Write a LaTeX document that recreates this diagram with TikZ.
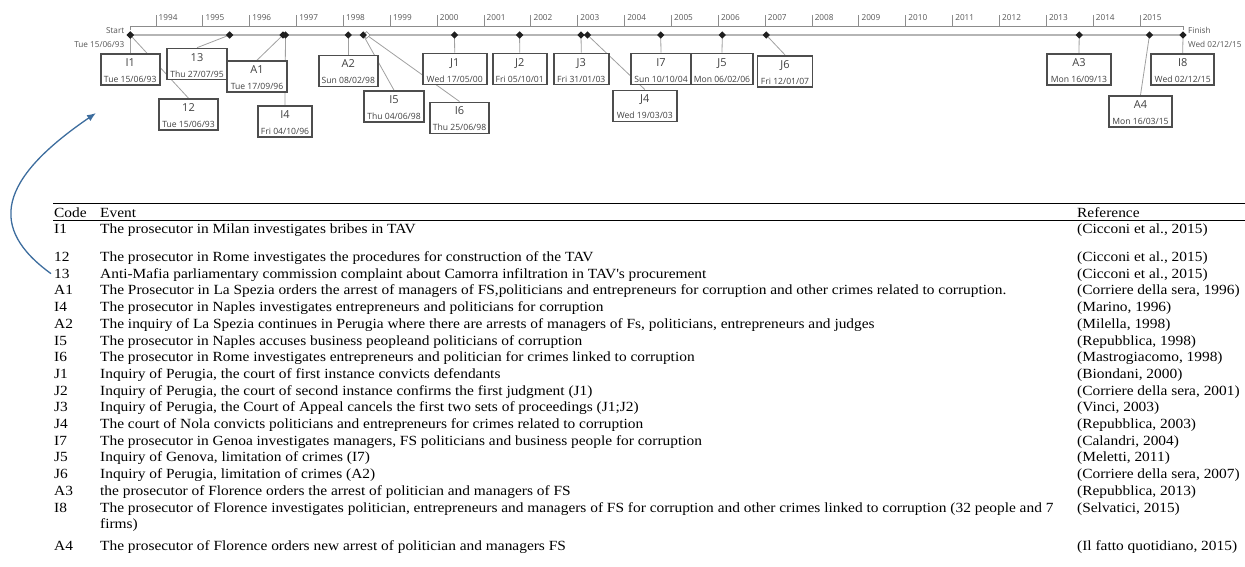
\documentclass[tikz,border=0pt]{standalone}
\usepackage{fontspec}
\setmainfont{Liberation Serif}
\newfontfamily\tabfont{Liberation Serif}[FakeStretch=1.1]
\newfontfamily\tlfont{Open Sans}
\usetikzlibrary{shapes.geometric,arrows.meta}
\pgfdeclarelayer{bg}
\pgfsetlayers{bg,main}
\definecolor{boxline}{HTML}{4D4D4D}
\definecolor{tltext}{HTML}{404040}
\definecolor{mainline}{HTML}{B5B5B5}
\definecolor{connline}{HTML}{A0A0A0}
\definecolor{axisgray}{HTML}{8C8C8C}
\definecolor{lbltext}{HTML}{555555}
\definecolor{arrowblue}{HTML}{3D6D9E}
\newcommand\tlev[6]{%
  \node[evbox, minimum width=#4pt] (#1) at (#2,#3) {};
  \node[evtitle] (#1-t) at ([yshift=3pt]#1.center) {#5};
  \node[evdate] (#1-d) at ([yshift=-13pt]#1.center) {#6};}
\newcommand\tabrow[5]{%
  \node[cell] (c#1) at (54,#2) {#3};
  \node[cell] (e#1) at (100,#2) {#4};
  \node[cell] (r#1) at (1077,#2) {#5};}
\begin{document}
\begin{tikzpicture}[x=1pt,y=-1pt,
  evbox/.style={draw=boxline, line width=1.6pt, fill=white, minimum height=31pt, inner sep=0pt},
  evtitle/.style={font=\tlfont\fontsize{11}{12}\selectfont, text=tltext, inner sep=0pt, anchor=base},
  evdate/.style={font=\tlfont\fontsize{8.6}{10}\selectfont, text=tltext, inner sep=0pt, anchor=base},
  dia/.style={diamond, fill=black!88, inner sep=0pt, minimum size=7.5pt},
  diahollow/.style={diamond, fill=white, draw=black!45, line width=0.6pt, inner sep=0pt, minimum size=7pt},
  conn/.style={draw=connline, line width=0.8pt},
  axisln/.style={draw=axisgray, line width=1pt},
  mainln/.style={draw=mainline, line width=1.8pt},
  tllbl/.style={font=\tlfont\fontsize{8.2}{9}\selectfont, text=lbltext, inner sep=0pt},
  cell/.style={font=\tabfont\fontsize{14}{16}\selectfont, anchor=base west, inner sep=0pt},
  rulel/.style={draw=black, line width=1pt},
  linkarrow/.style={draw=arrowblue, line width=1.3pt, -{Latex[length=9pt,width=7pt]}}]
\useasboundingbox (0,0) rectangle (1245,566);

% ---------- year axis ----------
\coordinate (axL) at (130.2,26);
\coordinate (axR) at (1183,26);
\draw[axisln] ([yshift=-4pt]axL) -- (axL) -- (axR) -- ([yshift=-4pt]axR);
\foreach \yr [evaluate=\yr as \xx using {156+(\yr-1994)*46.86}] in {1994,...,2015}{
  \draw[axisln] (\xx,26) -- (\xx,15);
  \node[tllbl, anchor=base west] (y\yr) at (\xx+2.5,20.5) {\yr};
}

% ---------- event diamonds ----------
\node[dia] (pI1) at (130.2,35) {};
\node[dia] (p12) at (130.2,35) {};
\node[dia] (p13) at (229.6,35) {};
\node[dia] (pA1) at (283,35) {};
\node[dia] (pI4) at (285.5,35) {};
\node[dia] (pA2) at (348.3,35) {};
\node[diahollow] (pI6) at (366.6,35) {};
\node[dia] (pI5) at (363.2,35) {};
\node[dia] (pJ1) at (454.5,35) {};
\node[dia] (pJ2) at (519.6,35) {};
\node[dia] (pJ3) at (581,35) {};
\node[dia] (pJ4) at (587.5,35) {};
\node[dia] (pI7) at (660.7,35) {};
\node[dia] (pJ5) at (722.3,35) {};
\node[dia] (pJ6) at (766.2,35) {};
\node[dia] (pA3) at (1079.2,35) {};
\node[dia] (pA4) at (1149.5,35) {};
\node[dia] (pI8) at (1183,35) {};

\node[tllbl, anchor=base east] (startlbl) at (124.5,33.5) {Start};
\node[tllbl, anchor=base east] (startdate) at (124.5,47) {Tue 15/06/93};
\node[tllbl, anchor=base west] (finlbl) at (1188,33.5) {Finish};
\node[tllbl, anchor=base west] (findate) at (1188,47) {Wed 02/12/15};

% ---------- event boxes ----------
\tlev{bI1}{130.2}{69.2}{59}{I1}{Tue 15/06/93}
\tlev{b12}{188.5}{114.5}{59}{12}{Tue 15/06/93}
\tlev{b13}{197}{64}{60}{13}{Thu 27/07/95}
\tlev{bA1}{257}{76.5}{60}{A1}{Tue 17/09/96}
\tlev{bI4}{285}{121.5}{54}{I4}{Fri 04/10/96}
\tlev{bA2}{348.3}{70.8}{59}{A2}{Sun 08/02/98}
\tlev{bI5}{394}{106.5}{60}{I5}{Thu 04/06/98}
\tlev{bI6}{459.5}{117.8}{59}{I6}{Thu 25/06/98}
\tlev{bJ1}{454.7}{69}{64}{J1}{Wed 17/05/00}
\tlev{bJ2}{519.7}{69}{54}{J2}{Fri 05/10/01}
\tlev{bJ3}{581.3}{69}{55}{J3}{Fri 31/01/03}
\tlev{bJ4}{644.8}{105.8}{64}{J4}{Wed 19/03/03}
\tlev{bI7}{661}{69}{60}{I7}{Sun 10/10/04}
\tlev{bJ5}{722}{69}{62}{J5}{Mon 06/02/06}
\tlev{bJ6}{785}{71.2}{55}{J6}{Fri 12/01/07}
\tlev{bA3}{1079}{69.2}{64}{A3}{Mon 16/09/13}
\tlev{bI8}{1182.7}{69.2}{63}{I8}{Wed 02/12/15}
\tlev{bA4}{1140.5}{111.3}{63}{A4}{Mon 16/03/15}

% ---------- timeline lines (behind) ----------
\begin{pgfonlayer}{bg}
  \draw[mainln] (pI1.center) -- (pI8.center);
  \foreach \n in {I1,12,13,A1,I4,A2,I5,I6,J1,J2,J3,J4,I7,J5,J6,A3,A4,I8}{
    \draw[conn] (p\n.center) -- (b\n.north);
  }
\end{pgfonlayer}

% ---------- table ----------
\coordinate (ruleTL) at (53,203);
\coordinate (ruleTR) at (1245,203);
\coordinate (ruleHL) at (53,220.5);
\coordinate (ruleHR) at (1245,220.5);
\draw[rulel] (ruleTL) -- (ruleTR);
\draw[rulel] (ruleHL) -- (ruleHR);

\tabrow{H}{217.5}{Code}{Event}{Reference}
\tabrow{I1}{233.5}{I1}{The prosecutor in Milan investigates bribes in TAV}{(Cicconi et al., 2015)}
\tabrow{12}{261.5}{12}{The prosecutor in Rome investigates the procedures for construction of the TAV}{(Cicconi et al., 2015)}
\tabrow{13}{278.2}{13}{Anti-Mafia parliamentary commission complaint about Camorra infiltration in TAV\textquotesingle s procurement}{(Cicconi et al., 2015)}
\tabrow{A1}{294.9}{A1}{The Prosecutor in La Spezia orders the arrest of managers of FS,politicians and entrepreneurs for corruption and other crimes related to corruption.}{(Corriere della sera, 1996)}
\tabrow{I4}{311.6}{I4}{The prosecutor in Naples investigates entrepreneurs and politicians for corruption}{(Marino, 1996)}
\tabrow{A2}{328.3}{A2}{The inquiry of La Spezia continues in Perugia where there are arrests of managers of Fs, politicians, entrepreneurs and judges}{(Milella, 1998)}
\tabrow{I5}{345}{I5}{The prosecutor in Naples accuses business peopleand politicians of corruption}{(Repubblica, 1998)}
\tabrow{I6}{361.7}{I6}{The prosecutor in Rome investigates entrepreneurs and politician for crimes linked to corruption}{(Mastrogiacomo, 1998)}
\tabrow{J1}{378.4}{J1}{Inquiry of Perugia, the court of first instance convicts defendants}{(Biondani, 2000)}
\tabrow{J2}{395.1}{J2}{Inquiry of Perugia, the court of second instance confirms the first judgment (J1)}{(Corriere della sera, 2001)}
\tabrow{J3}{411.8}{J3}{Inquiry of Perugia, the Court of Appeal cancels the first two sets of proceedings (J1;J2)}{(Vinci, 2003)}
\tabrow{J4}{428.5}{J4}{The court of Nola convicts politicians and entrepreneurs for crimes related to corruption}{(Repubblica, 2003)}
\tabrow{I7}{445.2}{I7}{The prosecutor in Genoa investigates managers, FS politicians and business people for corruption}{(Calandri, 2004)}
\tabrow{J5}{461.9}{J5}{Inquiry of Genova, limitation of crimes (I7)}{(Meletti, 2011)}
\tabrow{J6}{478.6}{J6}{Inquiry of Perugia, limitation of crimes (A2)}{(Corriere della sera, 2007)}
\tabrow{A3}{495.3}{A3}{the prosecutor of Florence orders the arrest of politician and managers of FS}{(Repubblica, 2013)}
\tabrow{I8}{512}{I8}{The prosecutor of Florence investigates politician, entrepreneurs and managers of FS for corruption and other crimes linked to corruption (32 people and 7}{(Selvatici, 2015)}
\node[cell] (eI8b) at (100,528.7) {firms)};
\tabrow{A4}{550.5}{A4}{The prosecutor of Florence orders new arrest of politician and managers FS}{(Il fatto quotidiano, 2015)}

% ---------- link arrow ----------
\coordinate (arrE) at (96,113);
\draw[linkarrow] ([xshift=-3pt]c13.west) .. controls (-12,228) and (-2,180) .. (arrE);
\end{tikzpicture}
\end{document}
